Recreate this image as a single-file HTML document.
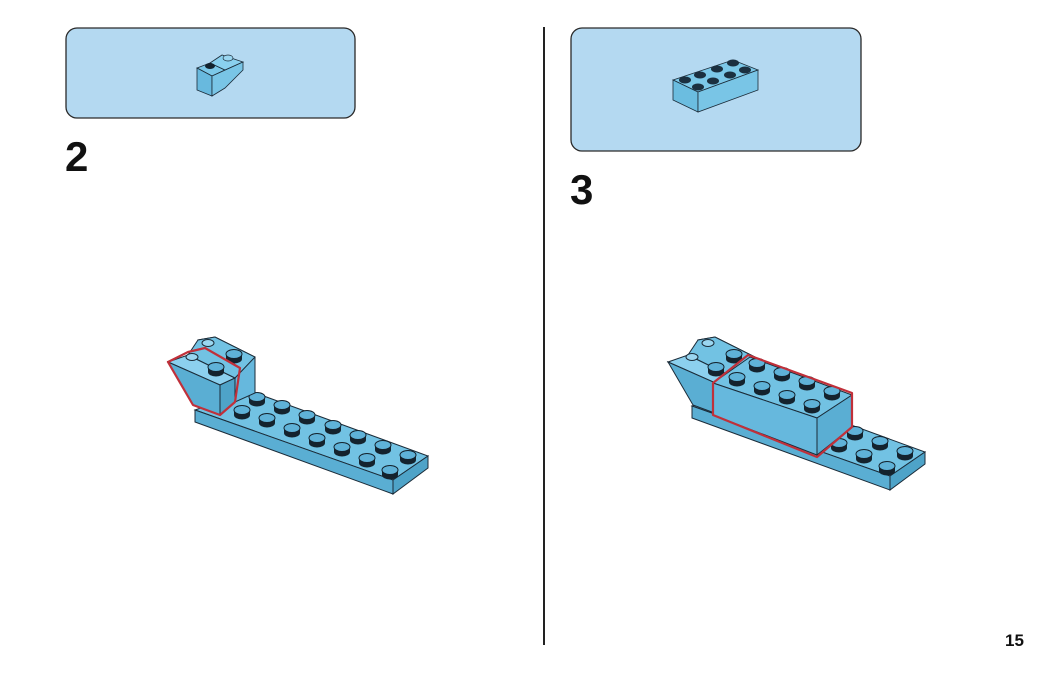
<!DOCTYPE html>
<html><head><meta charset="utf-8"><style>
body{margin:0;background:#fff;width:1050px;height:673px;overflow:hidden;font-family:"Liberation Sans",sans-serif}
svg{position:absolute;left:0;top:0}
</style></head><body>
<svg width="1050" height="673" viewBox="0 0 1050 673">
<defs>
<g id="stud">
<path d="M-8,0 L-8,5 A8,4.5 0 0 0 8,5 L8,0 Z" fill="#14232e"/>
<ellipse cx="0" cy="0" rx="8" ry="4.5" fill="#5fb2d8" stroke="#14232e" stroke-width="1"/>
</g>
<g id="plate">
<polygon points="195,410 250,391 428,456 393,480" fill="#72c2e3" stroke="#1b2b38" stroke-width="1"/>
<polygon points="195,410 393,480 393,494 195,422" fill="#5aaed3" stroke="#1b2b38" stroke-width="1"/>
<polygon points="393,480 428,456 428,468 393,494" fill="#4ea3c8" stroke="#1b2b38" stroke-width="1"/>
<use href="#stud" x="257" y="397"/><use href="#stud" x="282" y="405"/><use href="#stud" x="307" y="415"/><use href="#stud" x="333" y="425"/><use href="#stud" x="358" y="435"/><use href="#stud" x="383" y="445"/><use href="#stud" x="408" y="455"/>
<use href="#stud" x="242" y="410"/><use href="#stud" x="267" y="418"/><use href="#stud" x="292" y="428"/><use href="#stud" x="317" y="438"/><use href="#stud" x="342" y="447"/><use href="#stud" x="367" y="458"/><use href="#stud" x="390" y="470"/>
</g>
<g id="slope">
<polygon points="198,340 215,337 255,357 255,393 235,402" fill="#66b8dd" stroke="#1b2b38" stroke-width="1"/>
<polygon points="168,362 188,355 235,378 220,385" fill="#8cd0ee" stroke="#1b2b38" stroke-width="1"/>
<polygon points="188,355 198,340 215,337 255,357 235,378" fill="#72c2e3" stroke="#1b2b38" stroke-width="1"/>
<polygon points="168,362 220,385 220,415 193,405" fill="#5aaed3" stroke="#1b2b38" stroke-width="1"/>
<polygon points="220,385 235,378 235,402 220,415" fill="#4ea3c8" stroke="#1b2b38" stroke-width="1"/>
<ellipse cx="208" cy="343" rx="6" ry="3.5" fill="#9ad6f0" stroke="#1b2b38"/>
<ellipse cx="192" cy="357" rx="6" ry="3.5" fill="#9ad6f0" stroke="#1b2b38"/>
<use href="#stud" x="234" y="354"/>
<use href="#stud" x="216" y="367"/>
</g>
</defs>
<rect x="66" y="28" width="289" height="90" rx="11" fill="#b4d9f1" stroke="#2a2a2a" stroke-width="1.3"/>
<rect x="571" y="28" width="290" height="123" rx="11" fill="#b4d9f1" stroke="#2a2a2a" stroke-width="1.3"/>
<line x1="544" y1="27" x2="544" y2="645" stroke="#222" stroke-width="2"/>
<text x="65" y="171" font-size="42" font-weight="bold" fill="#111">2</text>
<text x="570" y="204" font-size="42" font-weight="bold" fill="#111">3</text>
<text x="1005" y="646" font-size="17" font-weight="bold" fill="#111">15</text>
<!-- icon 1 -->
<polygon points="197,68 210,63 225,70 212,76" fill="#7cc8e8" stroke="#1b2b38" stroke-width="0.8"/>
<polygon points="210,63 222,55 243,62 225,70" fill="#8ad0ee" stroke="#1b2b38" stroke-width="0.8"/>
<polygon points="197,68 212,76 212,96 197,90" fill="#68b9de" stroke="#1b2b38" stroke-width="0.8"/>
<polygon points="212,76 243,62 243,70 225,88 212,96" fill="#79c5e6" stroke="#1b2b38" stroke-width="0.8"/>
<ellipse cx="210" cy="66" rx="5" ry="3" fill="#14232e"/>
<ellipse cx="228" cy="58" rx="5" ry="3" fill="#9ad6f0" stroke="#1b2b38" stroke-width="0.7"/>
<!-- icon 2 -->
<polygon points="673,80 733,60 758,70 698,92" fill="#7cc8e8" stroke="#1b2b38" stroke-width="0.8"/>
<polygon points="673,80 698,92 698,112 673,100" fill="#6bbde0" stroke="#1b2b38" stroke-width="0.8"/>
<polygon points="698,92 758,70 758,90 698,112" fill="#79c5e6" stroke="#1b2b38" stroke-width="0.8"/>
<g fill="#1b3040">
<ellipse cx="685" cy="80" rx="6" ry="3.5"/><ellipse cx="700" cy="75" rx="6" ry="3.5"/><ellipse cx="717" cy="69" rx="6" ry="3.5"/><ellipse cx="733" cy="63" rx="6" ry="3.5"/>
<ellipse cx="698" cy="87" rx="6" ry="3.5"/><ellipse cx="713" cy="81" rx="6" ry="3.5"/><ellipse cx="730" cy="75" rx="6" ry="3.5"/><ellipse cx="745" cy="70" rx="6" ry="3.5"/>
</g>
<!-- step 2 -->
<use href="#plate"/>
<use href="#slope"/>
<polygon points="168,362 188,352 205,348 240,368 235,402 220,415 193,405" fill="none" stroke="#c0303a" stroke-width="2.2" stroke-linejoin="round"/>
<!-- step 3 -->
<g transform="translate(497,-4)"><use href="#plate"/></g>
<g transform="translate(500,0)"><use href="#slope"/></g>
<polygon points="713,383 750,357 852,395 817,418" fill="#72c2e3" stroke="#1b2b38" stroke-width="1"/>
<polygon points="713,383 817,418 817,455 713,415" fill="#66b8dd" stroke="#1b2b38" stroke-width="1"/>
<polygon points="817,418 852,395 852,427 817,455" fill="#5aaed3" stroke="#1b2b38" stroke-width="1"/>
<use href="#stud" x="757" y="363"/><use href="#stud" x="782" y="372"/><use href="#stud" x="807" y="381"/><use href="#stud" x="832" y="391"/>
<use href="#stud" x="737" y="377"/><use href="#stud" x="762" y="386"/><use href="#stud" x="787" y="395"/><use href="#stud" x="812" y="404"/>
<polygon points="713,383 748,355 852,393 852,427 817,457 713,415" fill="none" stroke="#c0303a" stroke-width="2.2" stroke-linejoin="round"/>
</svg>
</body></html>
